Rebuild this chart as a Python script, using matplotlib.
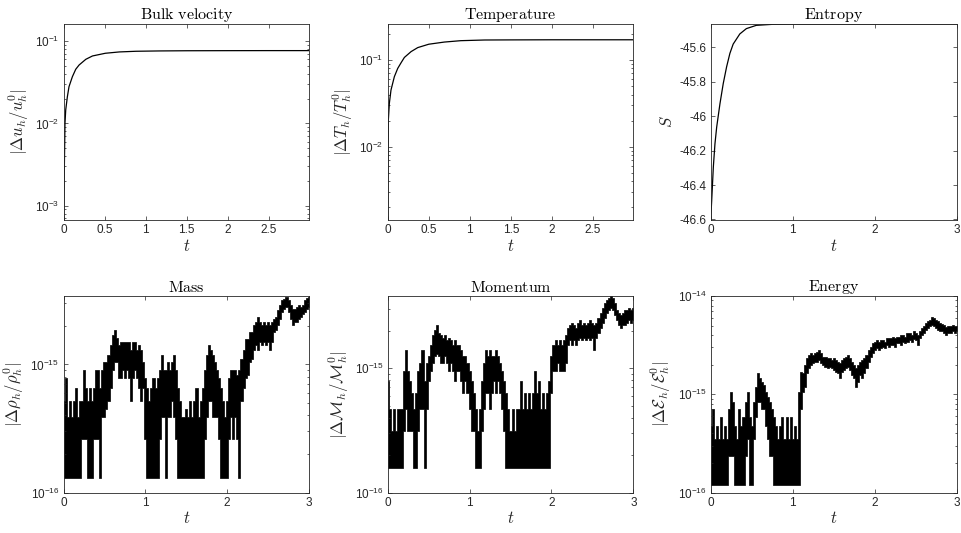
import numpy as np
import matplotlib
matplotlib.use("Agg")
import matplotlib.pyplot as plt
from matplotlib.ticker import FixedLocator, NullFormatter, FuncFormatter

# ---------------- data ----------------
titles = ["Bulk velocity", "Temperature", "Entropy", "Mass", "Momentum", "Energy"]

vel_t = [0.0, 0.004, 0.01, 0.018, 0.027, 0.047, 0.067, 0.108, 0.149, 0.19, 0.272,
         0.353, 0.51, 0.68, 0.884, 1.17, 1.5, 2.0, 2.5, 2.99]
vel_v = [1e-5, 1.0e-3, 2.7e-3, 1.0e-2, 1.46e-2, 2.11e-2, 2.8e-2, 3.7e-2, 4.56e-2, 5.14e-2, 6.03e-2,
         6.62e-2, 7.14e-2, 7.41e-2, 7.55e-2, 7.62e-2, 7.66e-2, 7.68e-2, 7.69e-2, 7.69e-2]

temp_t = [0.0, 0.003, 0.008, 0.02, 0.04, 0.081, 0.122, 0.163, 0.203, 0.285, 0.366,
          0.5, 0.69, 0.89, 1.18, 1.5, 2.0, 2.5, 2.99]
temp_v = [1e-5, 5e-3, 2.03e-2, 3.16e-2, 4.5e-2, 6.42e-2, 8.0e-2, 9.3e-2, 0.107, 0.125, 0.139,
          0.152, 0.161, 0.167, 0.170, 0.1705, 0.171, 0.171, 0.171]

ent_t = [0.0, 0.012, 0.032, 0.052, 0.073, 0.113, 0.153, 0.194, 0.234, 0.274, 0.355,
         0.435, 0.556, 0.758, 1.0, 1.5, 2.0, 2.5, 3.0]
ent_v = [-46.600, -46.491, -46.296, -46.160, -46.063, -45.927, -45.810, -45.713, -45.635, -45.581, -45.522,
         -45.491, -45.472, -45.466, -45.4645, -45.4643, -45.4642, -45.4642, -45.4642]

# noisy conservation errors: lower / upper envelope, units of 1e-16, samples over t in [0, 3]
mass_lo = [1.3, 1.3, 1.3, 1.3, 1.3, 1.3, 1.3, 1.3, 1.3, 2.6, 2.6, 2.6, 1.3, 1.3, 1.3, 2.6, 2.6, 2.6, 1.3, 3.9,
           3.9, 4.5, 5.2, 6.5, 9.1, 10.4, 10.4, 7.8, 7.8, 9.1, 7.8, 9.1, 7.8, 5.2, 7.8, 9.1, 7.8, 6.5, 5.2, 6.5,
           2.6, 1.3, 1.3, 1.3, 1.3, 1.3, 1.3, 2.6, 3.9, 3.9, 1.3, 3.9, 3.9, 5.2, 3.9, 2.6, 1.3, 1.3, 1.3, 1.3,
           1.3, 1.3, 1.3, 1.3, 1.3, 1.3, 1.3, 1.3, 1.3, 2.6, 3.9, 5.2, 5.2, 3.9, 3.9, 3.9, 2.6, 1.3, 1.3, 1.3,
           1.3, 2.6, 3.9, 2.6, 3.9, 2.6, 1.3, 5.2, 6.5, 7.8, 8.2, 10.4, 11.1, 12.9, 14.1, 12.9, 14.9, 14.1, 14.9, 14.1,
           14.9, 12.9, 14.9, 17.9, 18.4, 20.2, 22.5, 25.7, 27.2, 28.1, 25.7, 22.5, 20.2, 21.4, 21.4, 22.5, 23.5, 24.6, 25.7, 27.2,
           28.1]
mass_hi = [5.2, 7.8, 3.9, 5.2, 3.9, 5.2, 6.5, 3.9, 5.2, 5.2, 9.1, 6.5, 5.2, 6.5, 5.2, 6.5, 9.1, 9.1, 6.5, 9.1,
           10.4, 10.4, 11.8, 14.1, 16.9, 18.4, 16.0, 14.1, 14.9, 14.9, 14.9, 14.9, 14.9, 13.0, 14.9, 14.9, 13.0, 14.1, 13.0, 10.4,
           7.8, 6.5, 5.2, 6.5, 7.8, 6.5, 7.8, 9.1, 11.8, 9.1, 9.1, 10.4, 9.1, 10.4, 11.8, 9.1, 6.5, 5.2, 3.9, 3.9,
           4.5, 3.9, 5.2, 3.9, 5.2, 6.5, 3.9, 5.2, 6.5, 9.1, 11.8, 14.1, 12.9, 11.8, 10.4, 9.1, 7.8, 6.5, 5.2, 3.9,
           5.2, 7.8, 9.1, 9.1, 9.1, 8.2, 9.1, 11.1, 12.9, 15.9, 15.9, 17.9, 17.9, 20.2, 21.4, 23.5, 21.4, 20.2, 21.4, 20.2,
           21.4, 20.2, 21.4, 22.5, 23.5, 26.5, 28.9, 31.6, 32.6, 33.7, 31.6, 29.0, 27.2, 27.2, 28.1, 28.9, 28.1, 28.9, 31.6, 33.0,
           33.7]

mom_lo = [1.57, 1.57, 1.57, 1.57, 1.57, 1.57, 1.57, 1.57, 3.13, 4.7, 3.13, 3.13, 3.13, 1.57, 1.57, 3.13, 4.7, 4.7, 1.57, 4.7,
          7.84, 9.4, 11.0, 12.5, 13.0, 12.5, 11.0, 11.0, 12.5, 11.0, 9.4, 11.0, 9.4, 7.84, 9.4, 9.4, 7.84, 6.27, 7.84, 6.27,
          4.7, 3.13, 3.13, 1.57, 1.57, 1.57, 3.13, 4.7, 6.27, 6.27, 4.7, 6.27, 7.84, 6.27, 7.84, 6.27, 4.7, 3.13, 1.57, 1.57,
          1.57, 1.57, 1.57, 1.57, 1.57, 1.57, 1.57, 1.57, 1.57, 1.57, 1.57, 1.57, 1.57, 1.57, 1.57, 1.57, 1.57, 1.57, 1.57, 1.57,
          6.27, 9.4, 9.4, 11.0, 9.4, 9.4, 9.4, 11.0, 15.3, 16.7, 15.3, 16.7, 15.3, 16.7, 17.5, 16.7, 17.5, 16.7, 17.5, 16.7,
          17.5, 13.9, 17.5, 19.2, 21.0, 23.1, 25.3, 27.7, 29.1, 30.4, 29.1, 26.5, 24.2, 22.1, 21.0, 22.1, 22.1, 23.1, 24.2, 23.1,
          24.2]
mom_hi = [7.84, 4.7, 3.13, 4.7, 3.13, 4.7, 4.7, 4.7, 9.4, 13.9, 9.4, 7.84, 6.27, 4.7, 6.27, 9.4, 11.0, 13.9, 7.84, 11.0,
          12.5, 15.3, 18.4, 20.1, 22.1, 19.2, 18.4, 17.5, 18.4, 16.7, 17.5, 16.7, 15.3, 16.7, 15.3, 15.3, 13.9, 12.5, 12.5, 11.0,
          9.4, 7.84, 6.27, 4.7, 3.13, 4.7, 7.84, 11.0, 13.9, 12.5, 13.9, 12.5, 12.5, 13.9, 12.5, 11.0, 9.4, 7.84, 6.27, 4.7,
          3.13, 4.7, 3.13, 4.7, 4.7, 7.84, 4.7, 6.27, 4.7, 6.27, 4.7, 6.27, 9.4, 6.27, 7.84, 4.7, 6.27, 4.7, 6.27, 7.84,
          12.5, 15.3, 16.7, 15.3, 16.7, 15.3, 16.7, 18.4, 21.0, 22.1, 23.1, 22.1, 21.0, 23.1, 24.2, 22.1, 23.1, 22.1, 23.1, 24.2,
          23.1, 22.1, 23.1, 25.3, 27.7, 30.4, 33.4, 35.0, 36.5, 37.9, 36.5, 33.4, 29.1, 27.7, 26.5, 27.7, 29.1, 29.1, 30.4, 29.1,
          30.4]

ener_lo = [1.18, 1.18, 1.18, 1.18, 1.18, 1.18, 1.18, 1.18, 1.18, 2.36, 2.36, 2.36, 1.18, 1.18, 1.18, 1.18, 1.18, 2.36, 3.54, 1.18,
           1.18, 3.54, 5.9, 8.3, 8.3, 7.08, 7.08, 4.72, 3.54, 2.36, 2.36, 1.18, 1.18, 1.18, 1.18, 1.18, 1.18, 1.18, 1.18, 1.18,
           1.18, 1.18, 1.18, 1.18, 7.08, 10.6, 11.9, 16.3, 18.4, 19.9, 20.7, 21.5, 21.5, 22.4, 20.7, 19.9, 19.1, 18.4, 19.1, 18.4,
           17.7, 17.0, 16.3, 14.5, 17.0, 17.7, 18.4, 19.1, 17.7, 15.6, 14.5, 11.9, 13.4, 15.6, 14.5, 16.3, 18.4, 21.5, 24.2, 26.2,
           28.4, 29.4, 28.4, 29.4, 30.6, 29.4, 31.8, 30.6, 31.8, 31.8, 30.6, 33.1, 33.1, 31.8, 34.4, 33.1, 34.4, 35.8, 34.4, 36.5,
           35.8, 31.8, 37.2, 40.3, 42.0, 45.3, 47.1, 49.0, 50.9, 49.0, 47.1, 45.3, 44.5, 43.6, 42.0, 40.3, 42.0, 41.9, 43.6, 42.0,
           43.6]
ener_hi = [4.72, 7.08, 3.54, 4.72, 3.54, 5.9, 3.54, 4.72, 3.54, 7.08, 10.6, 8.3, 4.72, 3.54, 7.08, 4.72, 5.9, 8.3, 10.6, 5.9,
           4.72, 8.3, 11.9, 16.3, 14.5, 13.4, 12.5, 10.6, 9.4, 8.3, 7.08, 5.9, 4.72, 3.54, 4.72, 5.9, 3.54, 5.9, 3.54, 5.9,
           3.54, 4.72, 3.54, 10.6, 17.0, 16.3, 19.9, 23.3, 25.2, 26.2, 25.2, 26.2, 27.2, 28.4, 26.2, 24.2, 24.2, 23.3, 23.3, 22.4,
           23.3, 22.4, 21.5, 20.7, 22.4, 23.3, 24.2, 25.2, 23.3, 21.5, 19.9, 18.4, 19.9, 21.5, 22.4, 23.3, 25.2, 28.4, 30.6, 33.1,
           34.4, 35.8, 34.4, 35.8, 35.8, 34.4, 37.2, 37.2, 37.2, 38.7, 37.2, 38.7, 38.7, 40.3, 40.3, 38.7, 41.9, 41.9, 40.3, 43.6,
           41.9, 40.3, 43.6, 47.1, 49.0, 52.9, 55.1, 57.3, 60.5, 59.5, 57.3, 55.1, 53.0, 52.0, 51.0, 48.0, 49.0, 50.0, 51.0, 49.0,
           50.0]

# ---------------- style ----------------
plt.rcParams["font.family"] = ["Liberation Sans", "DejaVu Sans"]
plt.rcParams["mathtext.fontset"] = "cm"
plt.rcParams["axes.unicode_minus"] = False
GRAY = "#262626"

fig = plt.figure(figsize=(9.61, 5.33), dpi=100)
W, H = 961.0, 533.0
lefts = [63.5, 387.7, 710.7]
widths = [245.5, 245.6, 246.0]
tops = [24.0, 296.0]
bottoms = [220.0, 492.5]

axes = []
for r in range(2):
    for c in range(3):
        ax = fig.add_axes([lefts[c] / W, 1 - bottoms[r] / H, widths[c] / W,
                           (bottoms[r] - tops[r]) / H])
        axes.append(ax)

ylabels = [r"$|\Delta u_h/u_h^0|$", r"$|\Delta T_h/T_h^0|$", r"$S$",
           r"$|\Delta \rho_h/\rho_h^0|$", r"$|\Delta \mathcal{M}_h/\mathcal{M}_h^0|$",
           r"$|\Delta \mathcal{E}_h/\mathcal{E}_h^0|$"]

gfmt = FuncFormatter(lambda v, p: ("%g" % v))

def logfmt(v, p):
    e = int(round(np.log10(v)))
    return r"$\mathregular{10^{%d}}$" % e

# top row
axes[0].plot(vel_t, vel_v, color="k", lw=0.9)
axes[0].set_yscale("log")
axes[0].set_ylim(6.7e-4, 0.162)
axes[0].set_xlim(0, 2.99)
axes[0].set_xticks([0, 0.5, 1, 1.5, 2, 2.5])

axes[1].plot(temp_t, temp_v, color="k", lw=0.9)
axes[1].set_yscale("log")
axes[1].set_ylim(1.43e-3, 0.26)
axes[1].set_xlim(0, 2.99)
axes[1].set_xticks([0, 0.5, 1, 1.5, 2, 2.5])

axes[2].plot(ent_t, ent_v, color="k", lw=0.9)
axes[2].set_ylim(-46.603, -45.4642)
axes[2].set_xlim(0, 3)
axes[2].set_xticks([0, 1, 2, 3])
axes[2].set_yticks([-46.6, -46.4, -46.2, -46.0, -45.8, -45.6])
axes[2].yaxis.set_major_formatter(gfmt)

# bottom row
noisy = [(mass_lo, mass_hi, (1e-16, 3.42e-15)),
         (mom_lo, mom_hi, (1e-16, 3.8e-15)),
         (ener_lo, ener_hi, (1e-16, 1e-14))]
for ax, (lo, hi, yl) in zip(axes[3:], noisy):
    tt = np.linspace(0, 3, len(lo))
    ax.fill_between(tt, np.array(lo) * 1e-16, np.array(hi) * 1e-16, step="mid",
                    color="k", lw=0.5, edgecolor="k")
    ax.set_yscale("log")
    ax.set_ylim(*yl)
    ax.set_xlim(0, 3)
    ax.set_xticks([0, 1, 2, 3])

for i, ax in enumerate(axes):
    ax.set_title(r"$\mathrm{%s}$" % titles[i].replace(" ", r"\ "), fontsize=11.5, pad=3, color="k")
    ax.set_ylabel(ylabels[i], fontsize=12, color=GRAY, labelpad=3)
    ax.set_xlabel(r"$t$", fontsize=12, color=GRAY, labelpad=1)
    ax.xaxis.set_major_formatter(gfmt)
    if ax.get_yscale() == "log":
        y0, y1 = ax.get_ylim()
        e0, e1 = int(np.floor(np.log10(y0))), int(np.ceil(np.log10(y1)))
        majors = [10.0 ** e for e in range(e0, e1 + 1) if y0 * 0.999 <= 10.0 ** e <= y1 * 1.001]
        minors = [m * 10.0 ** e for e in range(e0, e1 + 1) for m in range(2, 10)
                  if y0 < m * 10.0 ** e < y1]
        ax.yaxis.set_major_locator(FixedLocator(majors))
        ax.yaxis.set_minor_locator(FixedLocator(minors))
        ax.yaxis.set_major_formatter(FuncFormatter(logfmt))
        ax.yaxis.set_minor_formatter(NullFormatter())
    for s in ax.spines.values():
        s.set_color(GRAY)
        s.set_linewidth(0.6)
    ax.tick_params(which="both", direction="in", top=True, right=True, colors=GRAY,
                   labelsize=8.5, width=0.5)
    ax.tick_params(which="major", length=3, pad=3)
    ax.tick_params(which="minor", length=1.6)

fig.savefig("out.png", dpi=100, facecolor="white")
